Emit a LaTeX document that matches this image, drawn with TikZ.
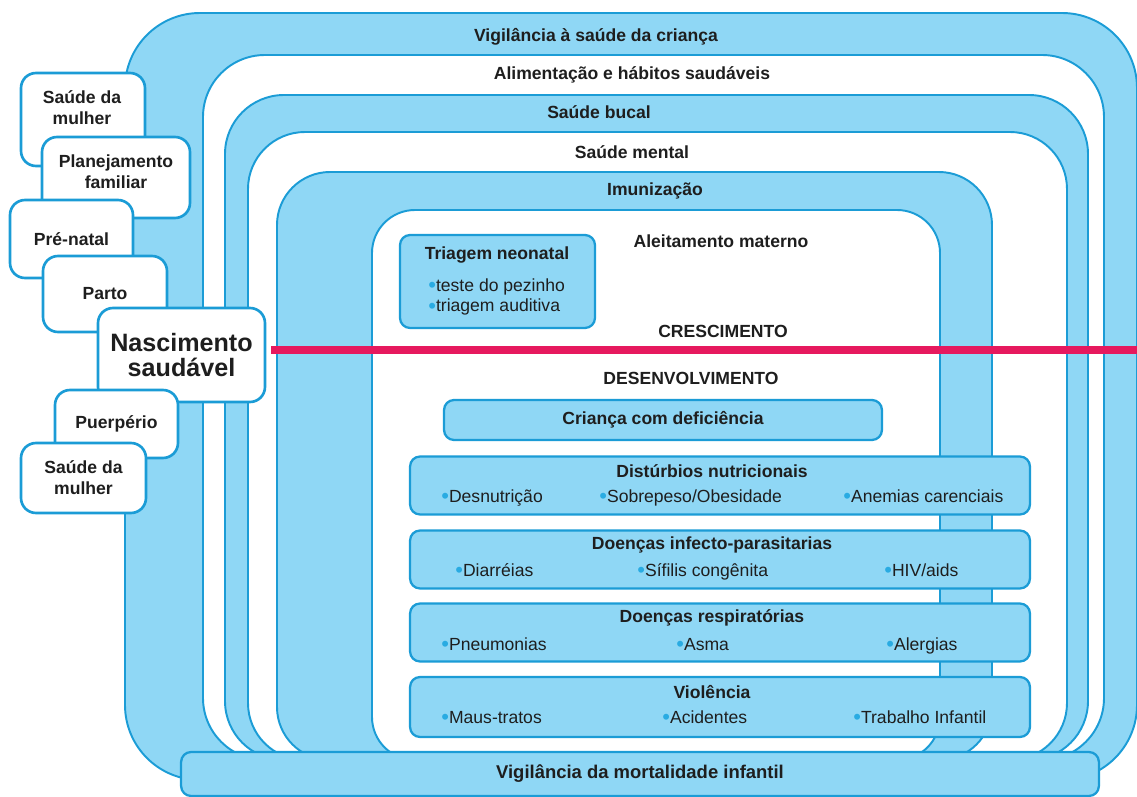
\documentclass[tikz,border=0pt]{standalone}
\usepackage{fontspec}
\setmainfont{Liberation Sans}
\definecolor{azulclaro}{RGB}{143,215,245}
\definecolor{azulborda}{RGB}{27,156,214}
\definecolor{azulbola}{RGB}{41,171,226}
\definecolor{rosa}{RGB}{230,25,94}
\definecolor{tinta}{RGB}{30,30,30}
\newcommand{\bola}{{\color{azulbola}\raisebox{-0.15ex}{\fontsize{12.5}{10}\selectfont\textbullet}}}

\begin{document}
\begin{tikzpicture}[x=0.02cm, y=-0.02cm, font=\fontsize{10}{12}\selectfont\bfseries, text=tinta]
\tikzset{faixaazul/.style={draw=azulborda, fill=azulclaro, line width=1.1pt},
  faixabranca/.style={draw=azulborda, fill=white, line width=1.1pt},
  caixa/.style={draw=azulborda, fill=azulclaro, rounded corners=0.2cm, line width=1.3pt, inner sep=0pt},
  caixab/.style={draw=azulborda, fill=white, rounded corners=0.3cm, line width=1.5pt, align=center, inner sep=0pt},
  rotulo/.style={align=center, inner sep=1pt},
  itens/.style={anchor=base west, align=left, inner sep=0pt, font=\fontsize{10}{11.8}\selectfont}}
\useasboundingbox (0,0) rectangle (1137,797);
\filldraw[faixaazul, rounded corners=1.5cm] (125,13) rectangle (1137,780);
\filldraw[faixabranca, rounded corners=1.24cm] (203,55) rectangle (1104,760);
\filldraw[faixaazul, rounded corners=1.18cm] (225,95) rectangle (1088,760);
\filldraw[faixabranca, rounded corners=1.14cm] (248,132) rectangle (1067,760);
\filldraw[faixaazul, rounded corners=1.06cm] (277,172) rectangle (992,760);
\filldraw[faixabranca, rounded corners=0.86cm] (372,210) rectangle (940,760);
\node[rotulo] (vigil) at (596,37) {Vigilância à saúde da criança};
\node[rotulo] (alim) at (632,75) {Alimentação e hábitos saudáveis};
\node[rotulo] (bucal) at (599,112) {Saúde bucal};
\node[rotulo] (mental) at (632,152) {Saúde mental};
\node[rotulo] (imun) at (655,191) {Imunização};
\node[rotulo] (aleit) at (721,241) {Aleitamento materno};
\node[caixa, minimum width=3.9cm, minimum height=1.86cm] (triagem) at (497.5,281.5) {};
\node[rotulo] (ttriagem) at (497,255) {Triagem neonatal};
\node[itens] (itriagem) at (428,312) {\bola teste do pezinho\\\bola triagem auditiva};
\node[rotulo] (cresc) at (723,331) {CRESCIMENTO};
\node[rotulo] (desenv) at (691,378) {DESENVOLVIMENTO};
\node[caixa, minimum width=8.76cm, minimum height=0.8cm] (crianca) at (663,420) {Criança com deficiência};
\node[caixa, minimum width=12.4cm, minimum height=1.16cm] (nutri) at (720,485.5) {};
\node[rotulo] (tnutri) at (712,471) {Distúrbios nutricionais};
\node[itens] (n1) at (441,502) {\bola Desnutrição};
\node[itens] (n2) at (599,502) {\bola Sobrepeso/Obesidade};
\node[itens] (n3) at (843,502) {\bola Anemias carenciais};
\node[caixa, minimum width=12.4cm, minimum height=1.16cm] (infec) at (720,559.5) {};
\node[rotulo] (tinfec) at (712,545) {Doenças infecto-parasitarias};
\node[itens] (i1) at (455,576) {\bola Diarréias};
\node[itens] (i2) at (637,576) {\bola Sífilis congênita};
\node[itens] (i3) at (884,576) {\bola HIV/aids};
\node[caixa, minimum width=12.4cm, minimum height=1.16cm] (resp) at (720,632.5) {};
\node[rotulo] (tresp) at (712,618) {Doenças respiratórias};
\node[itens] (r1) at (441,650) {\bola Pneumonias};
\node[itens] (r2) at (676,650) {\bola Asma};
\node[itens] (r3) at (886,650) {\bola Alergias};
\node[caixa, minimum width=12.4cm, minimum height=1.2cm] (viol) at (720,707) {};
\node[rotulo] (tviol) at (712,692) {Violência};
\node[itens] (v1) at (441,723) {\bola Maus-tratos};
\node[itens] (v2) at (662,723) {\bola Acidentes};
\node[itens] (v3) at (853,723) {\bola Trabalho Infantil};
\node[caixa, minimum width=18.36cm, minimum height=0.88cm, font=\fontsize{10.5}{12}\selectfont\bfseries] (mortal) at (640,774) {Vigilância da mortalidade infantil};
\node[caixab, minimum width=2.48cm, minimum height=1.86cm] (mulher1) at (83,119.5) {};
\node[rotulo] (tmulher1) at (82,108) {Saúde da\\mulher};
\node[caixab, minimum width=2.96cm, minimum height=1.62cm] (planej) at (116,177.5) {};
\node[rotulo] (tplanej) at (116,172) {Planejamento\\familiar};
\node[caixab, minimum width=2.46cm, minimum height=1.56cm] (prenatal) at (71.5,239) {Pré-natal};
\node[caixab, minimum width=2.48cm, minimum height=1.52cm] (parto) at (105,294) {Parto};
\node[caixab, minimum width=3.34cm, minimum height=1.88cm, font=\fontsize{14.3}{14.5}\selectfont\bfseries] (nasc) at (181.5,355) {Nascimento\\saudável};
\node[caixab, minimum width=2.46cm, minimum height=1.36cm] (puerp) at (116.5,424) {Puerpério};
\node[caixab, minimum width=2.5cm, minimum height=1.4cm] (mulher2) at (83.5,478) {Saúde da\\mulher};
\coordinate (fimlinha) at (1137,350);
\draw[rosa, line width=0.16cm, shorten <=0.1cm] (nasc.east |- fimlinha) -- (fimlinha);
\end{tikzpicture}
\end{document}
